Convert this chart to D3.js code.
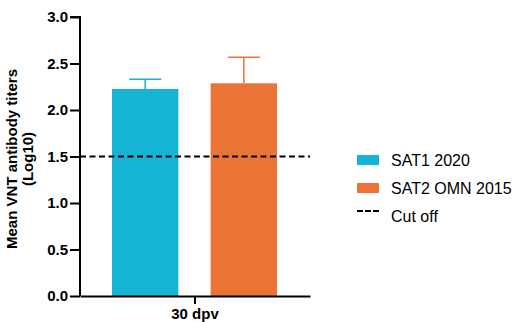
<!DOCTYPE html>
<html><head><meta charset="utf-8">
<script src="https://cdn.jsdelivr.net/npm/d3@7"></script>
<style>body{margin:0;background:#fff;} svg{display:block;font-family:"Liberation Sans",Arial,sans-serif;}</style>
</head><body>
<svg id="c" width="524" height="322"></svg>
<script>
const groups = ["30 dpv"];
const series = ["SAT1 2020", "SAT2 OMN 2015"];
const means = [2.226, 2.287];
const errUpper = [2.33, 2.567];
const cutoff = 1.5;
const yTicks = [0, 0.5, 1.0, 1.5, 2.0, 2.5, 3.0];
const colors = ["#16B4D4", "#E97436"];

const svg = d3.select("#c");
const y = d3.scaleLinear().domain([0, 3]).range([296, 17]);
const x0 = d3.scaleBand().domain(groups).range([80, 310]);
const x1 = d3.scaleBand().domain(series).range([112, 277]).paddingInner(0.327);

// bars
svg.selectAll("rect.bar").data(series).join("rect")
  .attr("x", d => x1(d)).attr("width", x1.bandwidth())
  .attr("y", (d,i) => y(means[i])).attr("height", (d,i) => y(0) - y(means[i]))
  .attr("fill", (d,i) => colors[i]);

// error bars
series.forEach((s,i) => {
  const cx = x1(s) + x1.bandwidth()/2;
  svg.append("line").attr("x1", cx).attr("x2", cx).attr("y1", y(means[i])).attr("y2", y(errUpper[i]))
    .attr("stroke", colors[i]).attr("stroke-width", 1.5);
  svg.append("line").attr("x1", cx-16).attr("x2", cx+16).attr("y1", y(errUpper[i])).attr("y2", y(errUpper[i]))
    .attr("stroke", colors[i]).attr("stroke-width", 1.5);
});

// cutoff line
svg.append("line").attr("x1", 80).attr("x2", 310).attr("y1", y(cutoff)).attr("y2", y(cutoff))
  .attr("stroke", "#000").attr("stroke-width", 2).attr("stroke-dasharray", "6,3.5");

// y axis
const ya = svg.append("g").attr("transform", "translate(80,0)")
  .call(d3.axisLeft(y).tickValues(yTicks).tickFormat(d3.format(".1f")).tickSize(10).tickPadding(2));
ya.select(".domain").attr("stroke-width", 2).attr("d", "M-10," + y(3) + "H0V" + y(0));
ya.selectAll(".tick line").attr("stroke-width", 2);
ya.selectAll("text").attr("font-size", 15).attr("font-weight", "bold").attr("fill", "#000")
  .attr("font-family", '"Liberation Sans",Arial,sans-serif');

// x axis
const xa = svg.append("g").attr("transform", "translate(0," + y(0) + ")")
  .call(d3.axisBottom(x0).tickSize(8).tickSizeOuter(0).tickPadding(4));
xa.select(".domain").attr("stroke-width", 2);
xa.selectAll(".tick line").attr("stroke-width", 2);
xa.selectAll("text").attr("font-size", 15).attr("font-weight", "bold").attr("fill", "#000")
  .attr("font-family", '"Liberation Sans",Arial,sans-serif');

// y label
const yl = svg.append("text").attr("transform", "translate(17,159) rotate(-90)")
  .attr("text-anchor", "middle").attr("font-size", 15).attr("font-weight", "bold");
yl.append("tspan").attr("x", 0).attr("y", 0).text("Mean VNT antibody titers");
yl.append("tspan").attr("x", 0).attr("y", 15.5).text("(Log10)");

// legend
const legY = [160, 188];
series.forEach((s,i) => {
  svg.append("rect").attr("x", 357).attr("y", legY[i]-5).attr("width", 22).attr("height", 10).attr("fill", colors[i]);
  svg.append("text").attr("x", 391).attr("y", legY[i]+6).attr("font-size", 16).text(s);
});
svg.append("line").attr("x1", 357).attr("x2", 379).attr("y1", 211).attr("y2", 211)
  .attr("stroke", "#000").attr("stroke-width", 2).attr("stroke-dasharray", "6,2");
svg.append("text").attr("x", 391).attr("y", 222).attr("font-size", 16).text("Cut off");
</script>
</body></html>
